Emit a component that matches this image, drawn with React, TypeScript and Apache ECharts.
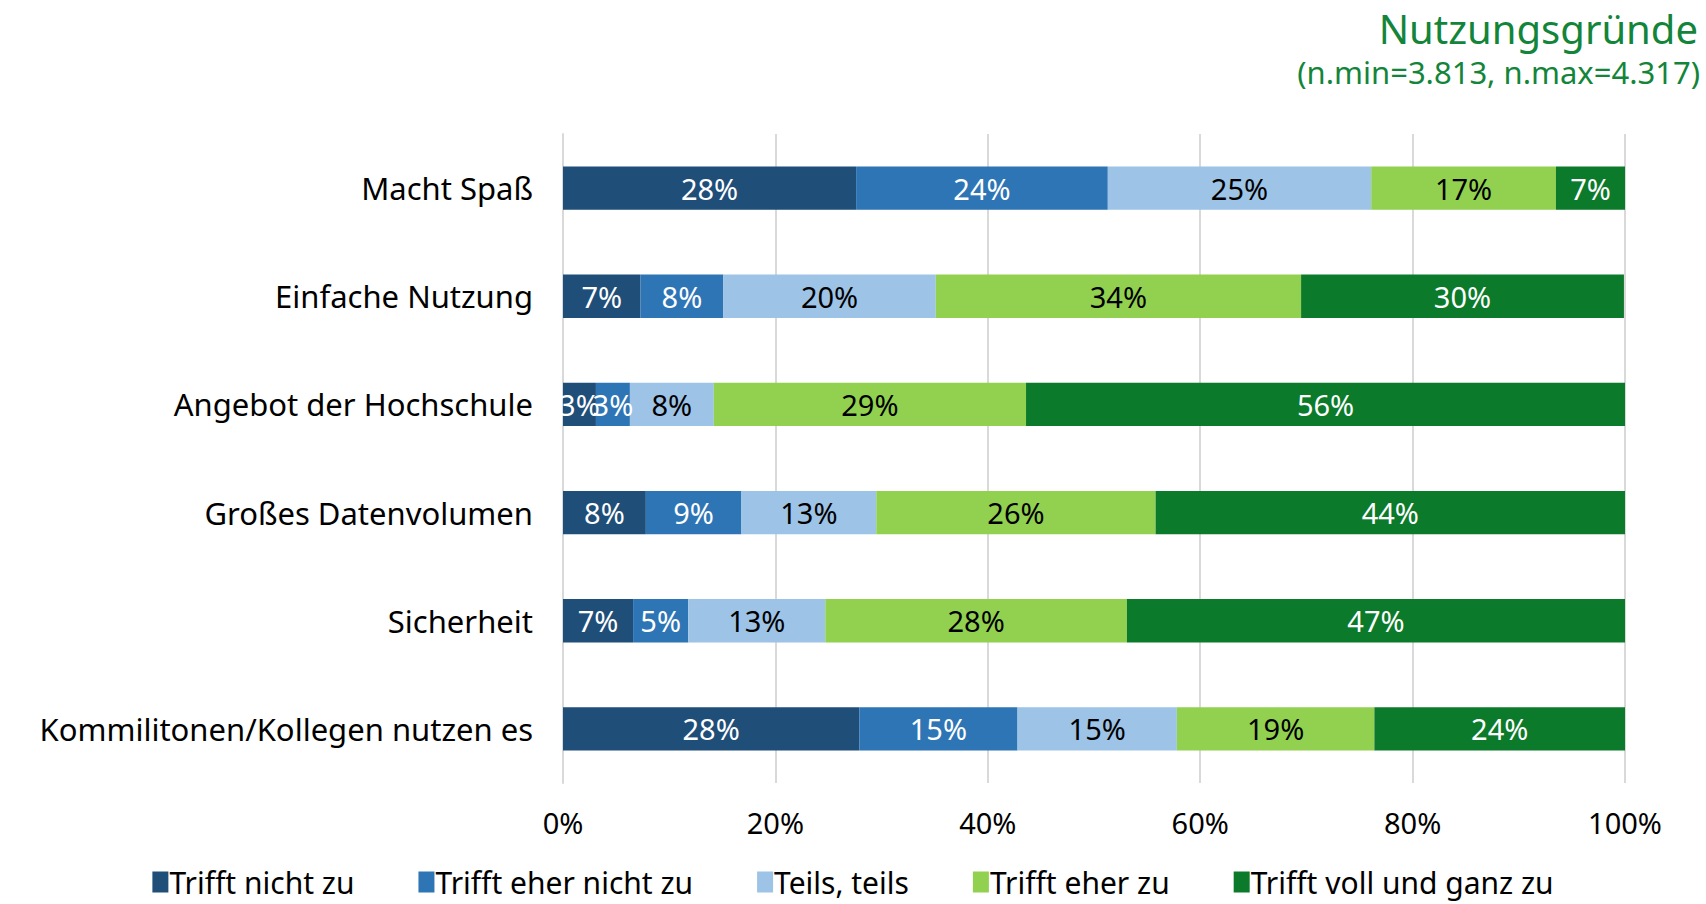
import React, { useEffect, useRef } from "react";
import * as echarts from "echarts";

const categories = [
  "Macht Spaß",
  "Einfache Nutzung",
  "Angebot der Hochschule",
  "Großes Datenvolumen",
  "Sicherheit",
  "Kommilitonen/Kollegen nutzen es",
];

const seriesNames = [
  "Trifft nicht zu",
  "Trifft eher nicht zu",
  "Teils, teils",
  "Trifft eher zu",
  "Trifft voll und ganz zu",
];

const triffNicht = [27.6, 7.3, 3.1, 7.8, 6.6, 27.9];
const eherNicht = [23.7, 7.8, 3.2, 9.0, 5.2, 14.9];
const teilsTeils = [24.8, 20.0, 7.9, 12.7, 12.9, 15.0];
const eherZu = [17.4, 34.4, 29.4, 26.3, 28.4, 18.6];
const vollGanz = [6.5, 30.4, 56.4, 44.2, 46.9, 23.6];

const xTicks = [0, 20, 40, 60, 80, 100];

const colors = ["#1F4E79", "#2E75B6", "#9DC3E6", "#92D050", "#0B7A2A"];
const labelColors = ["#FFFFFF", "#FFFFFF", "#000000", "#000000", "#FFFFFF"];

const FONT = "'Noto Sans', 'DejaVu Sans', sans-serif";

export default function App() {
  const ref = useRef<HTMLDivElement>(null);
  useEffect(() => {
    if (!ref.current) return;
    const chart = echarts.init(ref.current, null, { renderer: "svg" });
    const allData = [triffNicht, eherNicht, teilsTeils, eherZu, vollGanz];
    chart.setOption({
      animation: false,
      backgroundColor: "#FFFFFF",
      graphic: [
        {
          type: "text",
          right: 8,
          top: 8,
          style: {
            text: "Nutzungsgründe",
            fill: "#12853A",
            fontSize: 40,
            fontFamily: FONT,
          },
        },
        {
          type: "text",
          right: 6,
          top: 56,
          style: {
            text: "(n.min=3.813, n.max=4.317)",
            fill: "#12853A",
            fontSize: 31,
            fontFamily: FONT,
          },
        },
      ],
      legend: {
        data: seriesNames,
        top: 862,
        left: "center",
        icon: "rect",
        itemWidth: 16,
        itemHeight: 21,
        itemGap: 64,
        textStyle: { fontSize: 30, color: "#000000", fontFamily: FONT, padding: [0, 0, 0, -4] },
      },
      grid: { left: 563, right: 81, top: 134, bottom: 121, containLabel: false },
      xAxis: {
        type: "value",
        min: 0,
        max: 100,
        interval: 20,
        axisLabel: {
          formatter: (v: number) => (xTicks.includes(v) ? v + "%" : ""),
          fontSize: 29,
          color: "#000000",
          fontFamily: FONT,
          margin: 25,
        },
        axisLine: { show: false },
        axisTick: { show: false },
        splitLine: { show: true, lineStyle: { color: "#D9D9D9", width: 2 } },
      },
      yAxis: {
        type: "category",
        data: categories,
        inverse: true,
        axisLabel: { fontSize: 31, color: "#000000", fontFamily: FONT, margin: 30 },
        axisLine: { show: true, lineStyle: { color: "#D9D9D9", width: 2 } },
        axisTick: { show: false },
      },
      series: seriesNames.map((name, i) => ({
        name,
        type: "bar",
        stack: "total",
        barWidth: "40%",
        data: allData[i],
        itemStyle: { color: colors[i] },
        label: {
          show: true,
          position: "inside",
          formatter: (p: any) => Math.round(p.value) + "%",
          color: labelColors[i],
          fontSize: 29,
          fontFamily: FONT,
        },
        labelLayout: { hideOverlap: false },
      })),
    });
    return () => chart.dispose();
  }, []);
  return (
    <div
      ref={ref}
      style={{ position: "fixed", left: 0, top: 0, width: 1706, height: 904 }}
    />
  );
}
